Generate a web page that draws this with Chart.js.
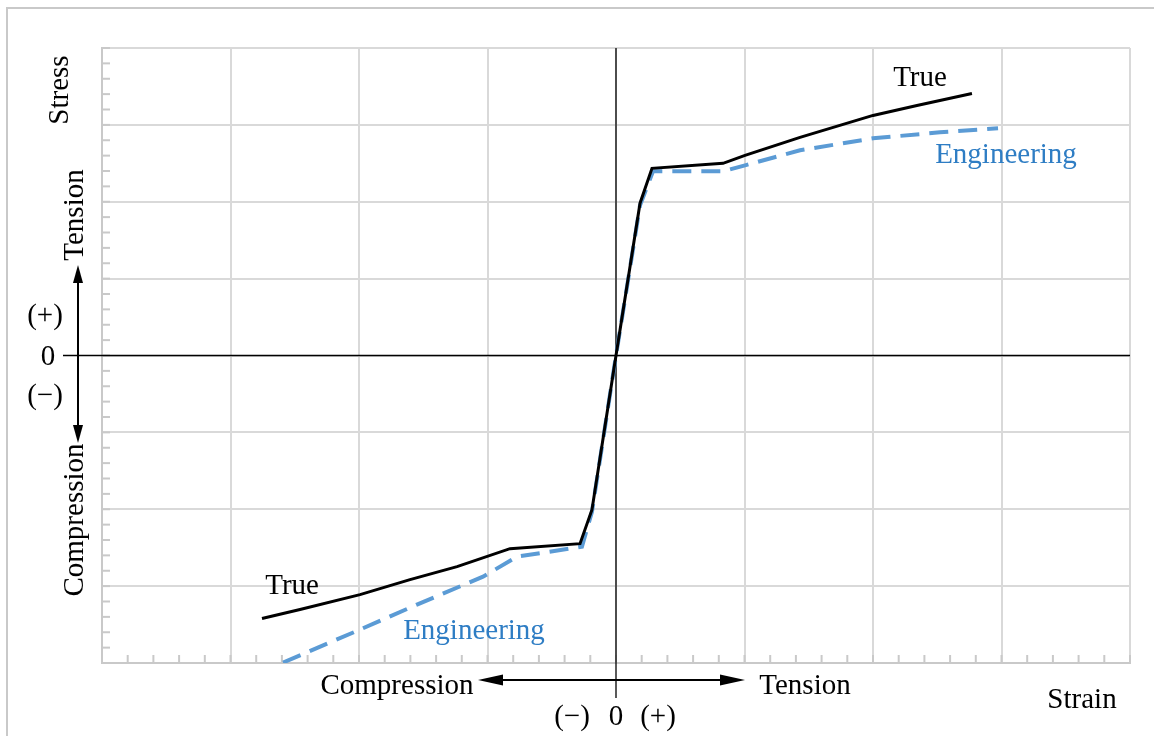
<!DOCTYPE html>
<html>
<head>
<meta charset="utf-8">
<script src="https://cdn.jsdelivr.net/npm/chart.js@4.4.0/dist/chart.umd.min.js"></script>
<style>
  html, body { margin: 0; padding: 0; background: #fff; overflow: hidden; }
  #wrap { position: relative; width: 1154px; height: 736px; }
  #frame { position: absolute; left: 6px; top: 7px; right: -4px; bottom: -4px; border-left: 2px solid #c9c9c9; border-top: 2px solid #c9c9c9; }
  canvas { position: absolute; left: 0; top: 0; }
</style>
</head>
<body>
<div id="wrap">
  <div id="frame"></div>
  <canvas id="grafico" width="1154" height="736"></canvas>
</div>
<script>
// Curva "True" (tensão x deformação real)
const trueStrain = [-2.755, -2.459, -1.992, -1.603, -1.237, -0.825, -0.28, -0.187, 0, 0.187, 0.28, 0.833, 1.004, 1.432, 2.0, 2.342, 2.77];
const trueStress = [-3.422, -3.305, -3.11, -2.916, -2.747, -2.513, -2.448, -2.006, 0, 1.981, 2.435, 2.5, 2.604, 2.838, 3.123, 3.253, 3.409];

// Curva "Engineering"
const engStrain = [-2.591, -1.992, -1.549, -1.035, -0.77, -0.265, -0.187, 0, 0.187, 0.288, 0.833, 1.004, 1.432, 2.0, 2.521, 2.973];
const engStress = [-3.994, -3.565, -3.24, -2.877, -2.617, -2.487, -2.032, 0, 1.955, 2.396, 2.396, 2.474, 2.669, 2.825, 2.903, 2.955];

// Rótulos das curvas (posição em coordenadas de dados)
const curveLabels = [
  { text: 'True', x: 2.366, y: 3.604, color: '#000000' },
  { text: 'Engineering', x: 3.035, y: 2.604, color: '#2E7DC4' },
  { text: 'True', x: -2.521, y: -3.006, color: '#000000' },
  { text: 'Engineering', x: -1.105, y: -3.591, color: '#2E7DC4' }
];

const FONTE = '"Liberation Serif", "Times New Roman", serif';
const TAM = 29;

const toPoints = (xs, ys) => xs.map((x, i) => ({ x: x, y: ys[i] }));

function seta(ctx, x1, y1, x2, y2, len, half) {
  // linha com ponta triangular em (x2, y2)
  const ang = Math.atan2(y2 - y1, x2 - x1);
  ctx.beginPath();
  ctx.moveTo(x2, y2);
  ctx.lineTo(x2 - len * Math.cos(ang) + half * Math.sin(ang), y2 - len * Math.sin(ang) - half * Math.cos(ang));
  ctx.lineTo(x2 - len * Math.cos(ang) - half * Math.sin(ang), y2 - len * Math.sin(ang) + half * Math.cos(ang));
  ctx.closePath();
  ctx.fill();
}

const extras = {
  id: 'extras',
  beforeDatasetsDraw(chart) {
    const { ctx, chartArea: a, scales: { x, y } } = chart;
    ctx.save();
    ctx.strokeStyle = '#c9c9c9';
    ctx.lineWidth = 2;
    // marcas menores
    for (let v = -4; v <= 4.001; v += 0.2) {
      const py = y.getPixelForValue(v);
      ctx.beginPath(); ctx.moveTo(a.left, py); ctx.lineTo(a.left + 8, py); ctx.stroke();
      const px = x.getPixelForValue(v);
      ctx.beginPath(); ctx.moveTo(px, a.bottom); ctx.lineTo(px, a.bottom - 8); ctx.stroke();
    }
    // eixos zero
    const x0 = x.getPixelForValue(0);
    const y0 = y.getPixelForValue(0);
    ctx.strokeStyle = '#000';
    ctx.lineWidth = 1.3;
    ctx.beginPath(); ctx.moveTo(x0, a.top); ctx.lineTo(x0, a.bottom + 35); ctx.stroke();
    ctx.beginPath(); ctx.moveTo(a.left - 39, y0); ctx.lineTo(a.right, y0); ctx.stroke();
    ctx.restore();
  },
  afterDraw(chart) {
    const { ctx, chartArea: a, scales: { x, y } } = chart;
    ctx.save();
    ctx.textAlign = 'center';
    ctx.textBaseline = 'middle';
    ctx.font = TAM + 'px ' + FONTE;

    curveLabels.forEach(l => {
      ctx.fillStyle = l.color;
      ctx.fillText(l.text, x.getPixelForValue(l.x), y.getPixelForValue(l.y));
    });

    ctx.fillStyle = '#000';
    ctx.strokeStyle = '#000';
    ctx.lineWidth = 2;

    // seta vertical (tensão / compressão)
    const ax = a.left - 24;
    ctx.beginPath(); ctx.moveTo(ax, 280); ctx.lineTo(ax, 428); ctx.stroke();
    seta(ctx, ax, 300, ax, 265, 18, 5);
    seta(ctx, ax, 400, ax, 443, 18, 5);

    // seta horizontal
    const ay = a.bottom + 17;
    ctx.beginPath(); ctx.moveTo(495, ay); ctx.lineTo(728, ay); ctx.stroke();
    seta(ctx, 520, ay, 478, ay, 25, 5.5);
    seta(ctx, 700, ay, 745, ay, 25, 5.5);

    ctx.fillText('(+)', 45, 316);
    ctx.fillText('0', 48, 357);
    ctx.fillText('(\u2212)', 45, 396);

    ctx.fillText('Compression', 397, 686);
    ctx.fillText('Tension', 805, 686);
    ctx.fillText('Strain', 1082, 700);
    ctx.fillText('(\u2212)', 572, 717);
    ctx.fillText('0', 616, 717);
    ctx.fillText('(+)', 658, 717);

    // textos verticais
    const vert = (t, cx, cy) => {
      ctx.save();
      ctx.translate(cx, cy);
      ctx.rotate(-Math.PI / 2);
      ctx.fillText(t, 0, 0);
      ctx.restore();
    };
    vert('Stress', 60, 90);
    vert('Tension', 75, 215);
    vert('Compression', 75, 520);
    ctx.restore();
  }
};

const ctx = document.getElementById('grafico').getContext('2d');
new Chart(ctx, {
  type: 'scatter',
  data: {
    datasets: [{
      label: 'True',
      data: toPoints(trueStrain, trueStress),
      showLine: true,
      borderColor: '#000000',
      borderWidth: 3,
      pointRadius: 0,
      tension: 0,
      fill: false
    }, {
      label: 'Engineering',
      data: toPoints(engStrain, engStress),
      showLine: true,
      borderColor: '#5B9BD5',
      borderWidth: 4,
      borderDash: [19, 10],
      pointRadius: 0,
      tension: 0,
      fill: false
    }]
  },
  options: {
    responsive: false,
    animation: false,
    layout: { padding: { left: 102, right: 24, top: 48, bottom: 73 } },
    plugins: {
      legend: { display: false },
      tooltip: { enabled: false }
    },
    scales: {
      x: {
        type: 'linear',
        min: -4,
        max: 4,
        ticks: { display: false, stepSize: 1 },
        grid: { color: '#d9d9d9', lineWidth: 2, drawTicks: false },
        border: { color: '#c9c9c9', width: 2 }
      },
      y: {
        type: 'linear',
        min: -4,
        max: 4,
        ticks: { display: false, stepSize: 1 },
        grid: { color: '#d9d9d9', lineWidth: 2, drawTicks: false },
        border: { color: '#c9c9c9', width: 2 }
      }
    }
  },
  plugins: [extras]
});
</script>
</body>
</html>
